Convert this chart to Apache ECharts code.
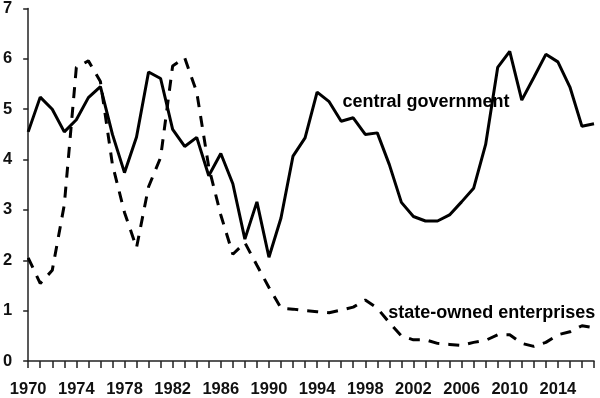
<!DOCTYPE html>
<html>
<head>
<meta charset="utf-8">
<script src="https://cdn.jsdelivr.net/npm/echarts@6/dist/echarts.min.js"></script>
<style>
  html, body { margin: 0; padding: 0; background: #fff; }
  #chart { width: 600px; height: 398px; }
</style>
</head>
<body>
<div id="chart"></div>
<script>
// 年份 1970 - 2017
const years = [];
for (let y = 1970; y <= 2017; y++) years.push(y);

// central government (solid)
const centralGov = [
  4.55, 5.24, 5.0, 4.55, 4.79, 5.23, 5.45, 4.5, 3.74, 4.45,
  5.74, 5.61, 4.6, 4.26, 4.44, 3.68, 4.12, 3.52, 2.42, 3.16,
  2.06, 2.84, 4.07, 4.43, 5.34, 5.15, 4.76, 4.83, 4.5, 4.53,
  3.9, 3.15, 2.87, 2.78, 2.78, 2.9, 3.16, 3.43, 4.3, 5.83,
  6.15, 5.18, 5.63, 6.09, 5.94, 5.44, 4.66, 4.71
];

// state-owned enterprises (dashed)
const stateOwned = [
  2.05, 1.54, 1.8, 3.1, 5.83, 5.96, 5.55, 3.9, 2.95, 2.25,
  3.46, 4.04, 5.86, 6.02, 5.34, 3.85, 2.9, 2.12, 2.35, 1.9,
  1.46, 1.05, 1.03, 1.0, 0.98, 0.96, 1.01, 1.07, 1.21, 1.05,
  0.76, 0.5, 0.42, 0.42, 0.35, 0.33, 0.31, 0.37, 0.41, 0.52,
  0.52, 0.35, 0.29, 0.37, 0.52, 0.58, 0.7, 0.66
];

const pair = arr => years.map((y, i) => [y, arr[i]]);

const chart = echarts.init(document.getElementById('chart'), null, { renderer: 'canvas' });

const font = 'Liberation Sans, Arial, Helvetica, sans-serif';
const axisColor = '#222';

// 曲线旁的文字
function note(text, coord) {
  return {
    symbol: 'circle',
    symbolSize: 0,
    silent: true,
    data: [{
      coord: coord,
      label: {
        show: true,
        formatter: text,
        position: 'right',
        distance: 0,
        color: '#000',
        fontFamily: font,
        fontWeight: 'bold',
        fontSize: 18
      }
    }]
  };
}

const option = {
  backgroundColor: '#fff',
  animation: false,
  grid: { left: 25, right: 6, top: 5, bottom: 34, containLabel: false },
  xAxis: {
    type: 'value',
    min: 1970,
    max: 2017,
    interval: 1,
    axisLine: { show: true, lineStyle: { color: axisColor, width: 1.5 } },
    axisTick: { show: true, length: 7, lineStyle: { color: axisColor, width: 1.5 } },
    splitLine: { show: false },
    axisLabel: {
      margin: 20,
      color: '#111',
      fontFamily: font,
      fontWeight: 'bold',
      fontSize: 16.5,
      showMinLabel: true,
      showMaxLabel: true,
      formatter: v => ((v - 1970) % 4 === 0 && v <= 2014) ? String(v) : ''
    }
  },
  yAxis: {
    type: 'value',
    min: 0,
    max: 7,
    interval: 1,
    axisLine: { show: true, lineStyle: { color: axisColor, width: 1.5 } },
    axisTick: { show: true, length: 5, lineStyle: { color: axisColor, width: 1.5 } },
    splitLine: { show: false },
    axisLabel: {
      margin: 16,
      color: '#111',
      fontFamily: font,
      fontWeight: 'bold',
      fontSize: 16.5
    }
  },
  series: [
    {
      name: 'central government',
      type: 'line',
      data: pair(centralGov),
      symbol: 'none',
      lineStyle: { color: '#000', width: 3 },
      markPoint: note('central government', [1996.1, 5.15])
    },
    {
      name: 'state-owned enterprises',
      type: 'line',
      data: pair(stateOwned),
      symbol: 'none',
      lineStyle: { color: '#000', width: 3, type: [11, 9] },
      markPoint: note('state-owned enterprises', [1999.9, 0.95])
    }
  ]
};

chart.setOption(option);
</script>
</body>
</html>
